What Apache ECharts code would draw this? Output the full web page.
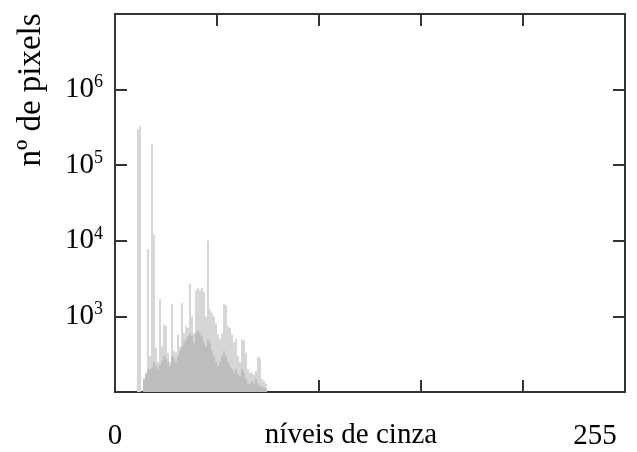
<!DOCTYPE html>
<html>
<head>
<meta charset="utf-8">
<script src="https://cdn.jsdelivr.net/npm/echarts@6/dist/echarts.min.js"></script>
<style>
  html, body { margin: 0; padding: 0; background: #fff; }
  #grafico { width: 637px; height: 452px; }
</style>
</head>
<body>
<div id="grafico"></div>
<script>
// histograma em escala log: níveis 11..75 (resto vazio)
const primeiroNivel = 11;
const contagens = [
  300000, 330000, null, 150, 180, 7800, 300, 190000, 12000, 380,
  250, 1700, 400, 780, 750, 330, 250, 1450, 350, 330,
  575, 400, 1500, 600, 740, 700, 2700, 1000, 600, 2200,
  2400, 2200, 2400, 2100, 1000, 10000, 1240, 1100, 1000, 800,
  575, 500, 600, 1450, 1400, 740, 700, 575, 450, 500,
  300, 250, 500, 480, 330, 200, 180, 180, 170, 190,
  290, 280, 150, 140, 130
];
// parte mais escura (barras vizinhas sobrepostas)
const fundo = [
  null, null, null, 150, 170, 200, 200, 210, 250, 220,
  200, 230, 260, 300, 280, 250, 220, 300, 280, 250,
  300, 350, 400, 450, 500, 550, 600, 550, 450, 600,
  650, 600, 550, 450, 400, 500, 450, 350, 300, 250,
  220, 250, 300, 350, 300, 250, 220, 200, 180, 200,
  170, 160, 200, 180, 150, 130, 130, 140, 130, 150,
  130, 120, 120, 115, 110
];
const expoentesY = [3, 4, 5, 6];
const rotulosX = { 0: '{a|0}', 255: '{d|255}' };

function pares(arr) {
  return arr.map((v, i) => [primeiroNivel + i + 0.5, v == null ? '-' : v]);
}

const fonte = '"Liberation Serif", "DejaVu Serif", serif';
const corEixo = '#333';
const tam = 29;

const chart = echarts.init(document.getElementById('grafico'));

const eixoY = (mostrar) => ({
  type: 'log',
  logBase: 10,
  min: 100,
  max: 10000000,
  position: mostrar ? 'left' : 'right',
  axisLine: { show: true, onZero: false, lineStyle: { color: corEixo, width: 2 } },
  axisTick: { show: true, inside: true, length: 12, lineStyle: { color: corEixo, width: 2 } },
  splitLine: { show: false },
  minorTick: { show: false },
  axisLabel: {
    show: mostrar,
    margin: 12,
    formatter: function (v) {
      const e = Math.round(Math.log10(v));
      return expoentesY.includes(e) ? '{b|10}{s|' + e + '}' : '';
    },
    rich: {
      b: { fontFamily: fonte, fontSize: tam, color: '#000', lineHeight: 32 },
      s: { fontFamily: fonte, fontSize: 18, color: '#000', verticalAlign: 'top', lineHeight: 32 }
    }
  }
});

const eixoX = (baixo) => ({
  type: 'value',
  min: 0,
  max: 255,
  interval: 51,
  position: baixo ? 'bottom' : 'top',
  axisLine: { show: true, onZero: false, lineStyle: { color: corEixo, width: 2 } },
  axisTick: { show: true, inside: true, length: 12, lineStyle: { color: corEixo, width: 2 } },
  splitLine: { show: false },
  axisLabel: {
    show: baixo,
    margin: 30,
    showMinLabel: true,
    showMaxLabel: true,
    formatter: v => rotulosX[v] || '',
    rich: {
      a: { fontFamily: fonte, fontSize: tam, color: '#000' },
      d: { fontFamily: fonte, fontSize: tam, color: '#000', padding: [0, 60, 0, 0] }
    }
  },
  name: baixo ? 'níveis de cinza' : '',
  nameLocation: 'middle',
  nameGap: 29,
  nameMoveOverlap: false,
  nameTextStyle: { fontFamily: fonte, fontSize: tam, color: '#000', padding: [0, 38, 0, 0], verticalAlign: 'top' }
});

chart.setOption({
  animation: false,
  backgroundColor: '#fff',
  grid: { left: 115, right: 12, top: 14, bottom: 60, containLabel: false, outerBoundsMode: 'none' },
  xAxis: [eixoX(true), eixoX(false)],
  yAxis: [
    Object.assign(eixoY(true), {
      name: 'nº de pixels',
      nameLocation: 'middle',
      nameGap: 67,
      nameRotate: 90,
      nameMoveOverlap: false,
      nameTextStyle: { fontFamily: fonte, fontSize: 33, color: '#000', padding: [0, 0, 0, 226] }
    }),
    eixoY(false)
  ],
  series: [
    {
      name: 'contagem',
      type: 'bar',
      xAxisIndex: 0,
      yAxisIndex: 0,
      barWidth: 2,
      data: pares(contagens),
      itemStyle: { color: '#d6d6d6' },
      clip: true
    },
    {
      name: 'fundo',
      type: 'bar',
      xAxisIndex: 0,
      yAxisIndex: 0,
      barWidth: 2,
      barGap: '-100%',
      data: pares(fundo),
      itemStyle: { color: '#bdbdbd' },
      clip: true
    }
  ]
});
</script>
</body>
</html>
